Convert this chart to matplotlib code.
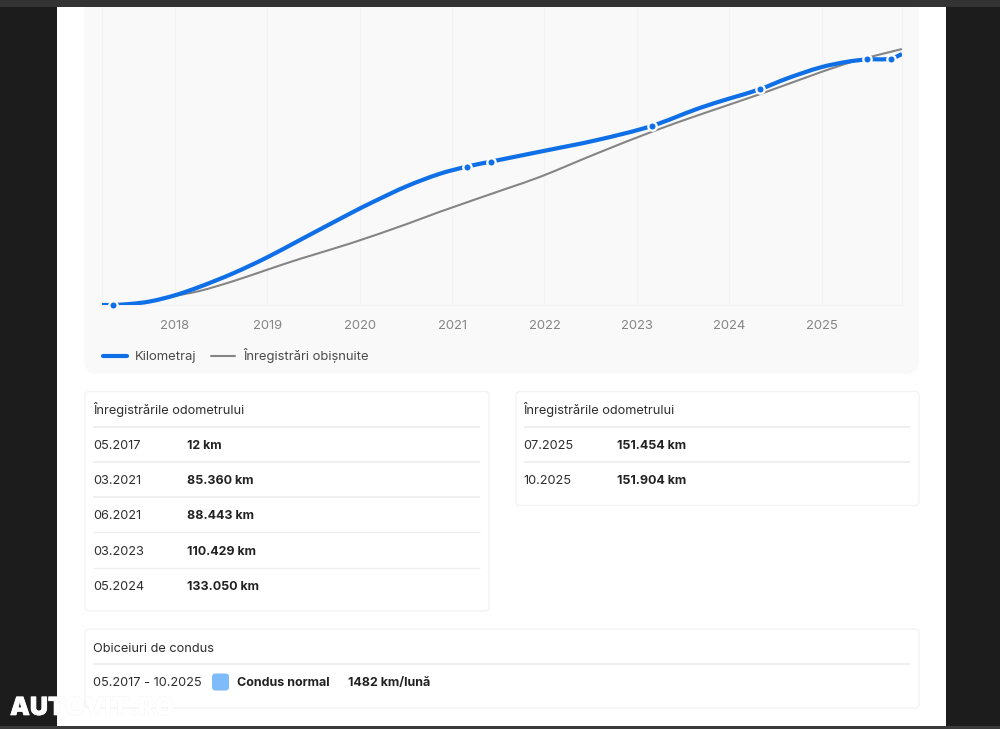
import matplotlib
matplotlib.use("Agg")
import matplotlib.pyplot as plt
import matplotlib.patheffects as pe
from matplotlib.lines import Line2D
from matplotlib.path import Path
from matplotlib.patches import FancyBboxPatch, PathPatch, Rectangle

plt.rcParams['font.family'] = ['Inter', 'DejaVu Sans']

# ---- data ----
km_years = [2017.21, 2017.33, 2017.51, 2017.73, 2018.00, 2018.27, 2018.63, 2018.99, 2019.35, 2019.90,
            2020.15, 2020.51, 2020.87, 2021.16, 2021.42, 2021.95, 2022.57, 2023.16, 2023.67, 2024.01,
            2024.33, 2024.63, 2024.99, 2025.28, 2025.49, 2025.75, 2025.87]
km_values = [12, 60, 620, 2200, 6000, 11290, 19550, 29170, 40000, 56560,
             63720, 73300, 81000, 85360, 88443, 94550, 101770, 110429, 121320, 127490,
             133050, 139830, 146600, 150070, 151454, 151904, 154800]
usual_years = [2017.21, 2017.33, 2017.51, 2017.73, 2018.00, 2018.27, 2018.63, 2018.99, 2019.35, 2019.90,
               2020.51, 2020.87, 2021.60, 2021.95, 2022.57, 2023.16, 2023.67, 2024.33, 2024.99, 2025.35,
               2025.87]
usual_values = [12, 60, 620, 2200, 5600, 8700, 14700, 21590, 28400, 38000,
                49960, 57550, 72000, 79000, 93570, 106800, 117190, 130000, 143600, 150300,
                157900]
record_years = [2017.33, 2021.16, 2021.42, 2023.16, 2024.33, 2025.49, 2025.75]
record_values = [12, 85360, 88443, 110429, 133050, 151454, 151904]
year_ticks = [2018, 2019, 2020, 2021, 2022, 2023, 2024, 2025]

series_names = ['Kilometraj', 'Înregistrări obișnuite']
card_title = 'Înregistrările odometrului'
left_dates = ['05.2017', '03.2021', '06.2021', '03.2023', '05.2024']
left_values = ['12 km', '85.360 km', '88.443 km', '110.429 km', '133.050 km']
right_dates = ['07.2025', '10.2025']
right_values = ['151.454 km', '151.904 km']
habit_title = 'Obiceiuri de condus'
habit_period = '05.2017 - 10.2025'
habit_label = 'Condus normal'
habit_rate = '1482 km/lună'

BLUE = '#0f6fe6'
GREY = '#858585'
DARK = '#2e2e2e'
W, H = 1000, 729

fig = plt.figure(figsize=(W / 100, H / 100), dpi=100, facecolor='#1c1c1c')

# page layer in pixel coordinates
bg = fig.add_axes([0, 0, 1, 1], zorder=0)
bg.set_xlim(0, W)
bg.set_ylim(H, 0)
bg.axis('off')

bg.add_patch(Rectangle((0, 0), W, 7, fc='#333333', ec='none'))
bg.add_patch(Rectangle((0, 726), W, 3, fc='#3a3a3a', ec='none'))
bg.add_patch(Rectangle((57, 7), 889, 719, fc='white', ec='none'))


def rbox(x0, y0, x1, y1, r, fc, ec='none', lw=0, z=1):
    bg.add_patch(FancyBboxPatch((x0 + r, y0 + r), x1 - x0 - 2 * r, y1 - y0 - 2 * r,
                                boxstyle=f'round,pad={r},rounding_size={r}',
                                fc=fc, ec=ec, lw=lw, zorder=z))


# chart panel: top is cut off by the screenshot
bg.add_patch(Rectangle((84, 7), 835, 30, fc='#f9f9f9', ec='none', zorder=1))
rbox(84, 20, 919, 374, 14, '#f9f9f9')

# cards
for box in [(85, 391.5, 489, 611), (516, 391.5, 919, 505.5), (85, 629, 919, 708)]:
    rbox(*box, 4, 'white', ec='#f3f3f3', lw=1)


def rule(x0, x1, y, lw=1.4):
    bg.plot([x0, x1], [y, y], color='#efefef', lw=lw, solid_capstyle='butt', zorder=2)


def label(x, y, s, bold=False, color=DARK):
    bg.text(x, y, s, ha='left', va='baseline', fontsize=8.98 if bold else 9.2,
            color='#222222' if bold else color,
            fontweight='bold' if bold else 'normal', zorder=3)


rows_y = [449.3, 484, 519.3, 554.7, 589.7]
rules_y = [426.5, 462, 497, 532, 567.5]

label(93, 414, card_title)
for i, (d, v, ry, uy) in enumerate(zip(left_dates, left_values, rows_y, rules_y)):
    rule(93, 480, uy, 1.4 if i < 3 else 0.9)
    label(93, ry, d)
    label(187, ry, v, bold=True)

label(523.7, 414, card_title)
for d, v, ry, uy in zip(right_dates, right_values, rows_y, rules_y):
    rule(524, 910, uy)
    label(523.7, ry, d)
    label(617, ry, v, bold=True)

label(93, 652, habit_title)
rule(93, 910, 664)
label(93, 686.3, habit_period)
rbox(212, 673.5, 229, 690.5, 3.5, '#7dbbfa', z=3)
label(237, 686.3, habit_label, bold=True)
label(348, 686.3, habit_rate, bold=True)

# watermark
bg.text(10, 708.5, 'AUTOVIT.RO', ha='left', va='center', fontsize=18, fontweight='black',
        color='white', zorder=6,
        path_effects=[pe.withStroke(linewidth=0.5, foreground='#f2f2f2')])

# chart in real scales
left, right, top, bottom = 102, 902, 8, 305
ax = fig.add_axes([left / W, 1 - bottom / H, (right - left) / W, (bottom - top) / H], zorder=1)
ax.patch.set_alpha(0)
ax.set_xlim(2017.21, 2025.87)
ax.set_ylim(0, 183200)
for name, spine in ax.spines.items():
    spine.set_visible(name in ('bottom', 'left', 'right'))
    spine.set_color('#f2f2f2')
    spine.set_linewidth(0.8)
ax.set_xticks(year_ticks)
ax.set_xticklabels([str(y) for y in year_ticks], fontsize=9.4, color=GREY)
ax.tick_params(axis='x', length=0, pad=11)
ax.set_yticks([])
ax.grid(axis='x', color='#f2f2f2', lw=0.8)
ax.set_axisbelow(True)


def smooth_path(xs, ys):
    """Cubic Bezier spline running through the read values, as the chart's own smooth line does."""
    n = len(xs)
    slopes = []
    for i in range(n):
        a, b = max(i - 1, 0), min(i + 1, n - 1)
        slopes.append((ys[b] - ys[a]) / (xs[b] - xs[a]))
    verts, codes = [(xs[0], ys[0])], [Path.MOVETO]
    for i in range(n - 1):
        d = (xs[i + 1] - xs[i]) / 3
        verts += [(xs[i] + d, ys[i] + slopes[i] * d),
                  (xs[i + 1] - d, ys[i + 1] - slopes[i + 1] * d),
                  (xs[i + 1], ys[i + 1])]
        codes += [Path.CURVE4] * 3
    return Path(verts, codes)


ax.add_patch(PathPatch(smooth_path(usual_years, usual_values), fc='none', ec=GREY, lw=1.5, zorder=2))
ax.add_patch(PathPatch(smooth_path(km_years, km_values), fc='none', ec=BLUE, lw=3.0, zorder=3,
                       capstyle='butt', joinstyle='round'))
ax.plot(record_years, record_values, ls='none', marker='o', ms=6, mfc=BLUE, mec='#fbfbfb',
        mew=1.65, zorder=4, clip_on=False)

handles = [Line2D([], [], color=BLUE, lw=3.0, solid_capstyle='round'),
           Line2D([], [], color=GREY, lw=1.5, solid_capstyle='round')]
ax.legend(handles, series_names, ncol=2, frameon=False,
          loc='center left', bbox_to_anchor=(103 / W, 1 - 356 / H),
          bbox_transform=fig.transFigure, fontsize=9.4, handlelength=1.85,
          handletextpad=0.62, columnspacing=1.1, borderpad=0, borderaxespad=0,
          labelcolor='#4a4a4a')

fig.savefig('out.png', dpi=100, facecolor=fig.get_facecolor())
